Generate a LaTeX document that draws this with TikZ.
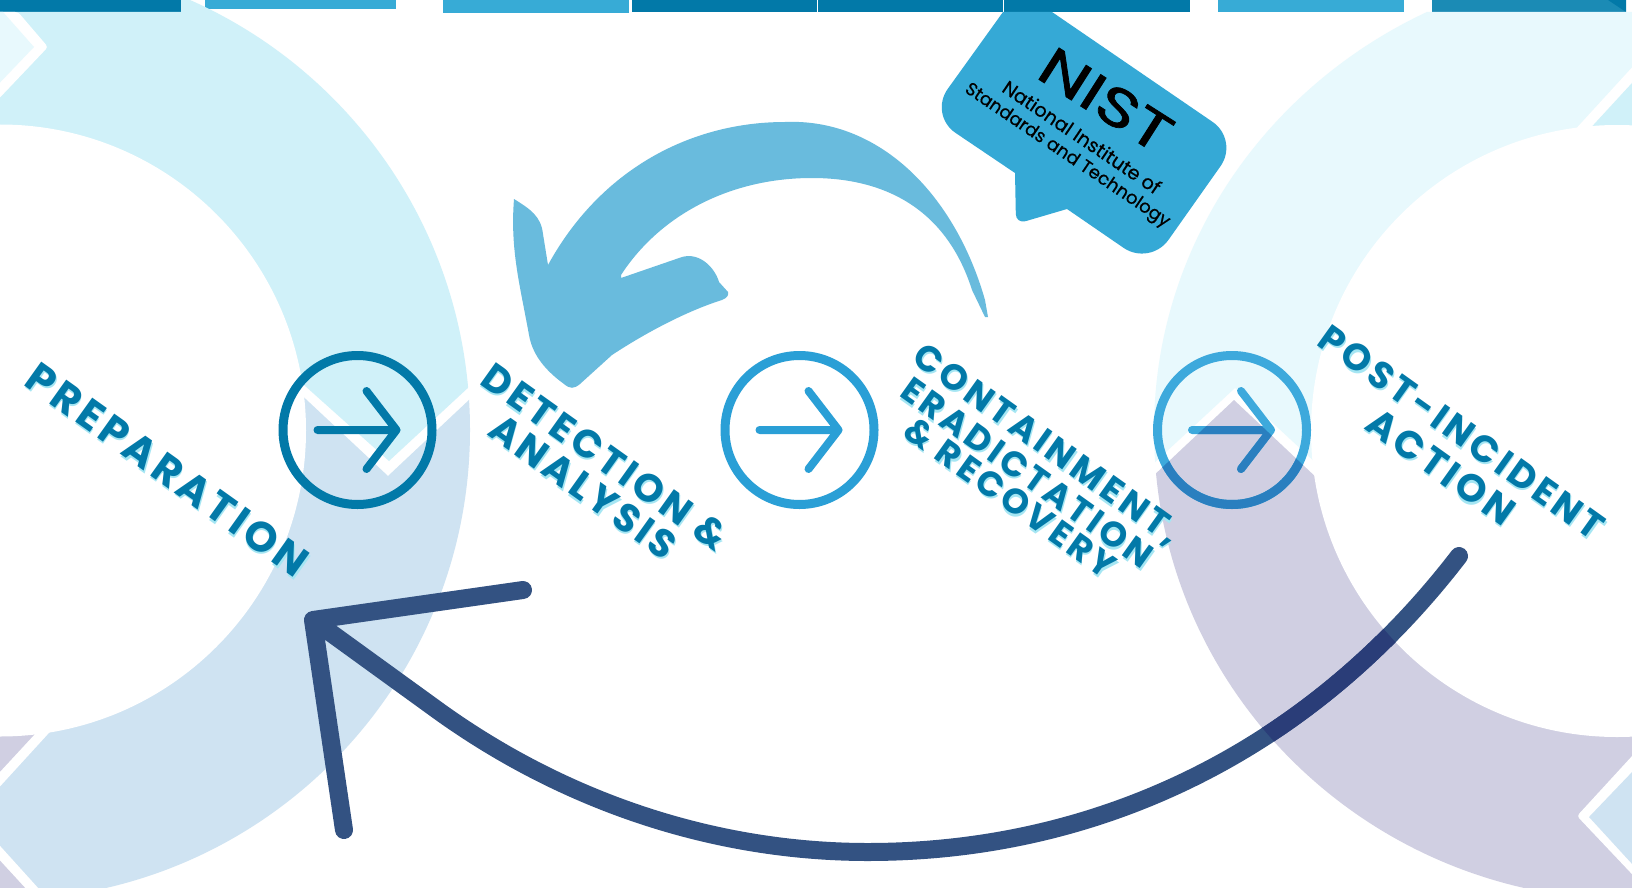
\documentclass[tikz,border=0pt]{standalone}
\usepackage{fontspec}
\setmainfont{Poppins}
\newfontfamily\lblfont[LetterSpace=10,BoldFont={Poppins Bold}]{Poppins}
\newfontfamily\nistfont[FakeBold=1.2]{Poppins}
\newfontfamily\nistmed[FakeBold=0.5]{Poppins}
\definecolor{dkblue}{HTML}{0279A8}
\definecolor{midblue}{HTML}{37ABD6}
\definecolor{barseven}{HTML}{1B8BB5}
\definecolor{ringcyan}{HTML}{D0F1F9}
\definecolor{ringblue}{HTML}{CFE3F2}
\definecolor{ringpale}{HTML}{E8F9FD}
\definecolor{ringlav}{HTML}{D0CFE2}
\definecolor{swoosh}{HTML}{69BBDD}
\definecolor{bubble}{HTML}{35A9D6}
\definecolor{circb}{HTML}{2A9FD6}
\definecolor{circc}{HTML}{3DA9DC}
\definecolor{circcdk}{HTML}{2A7FBF}
\definecolor{navy}{HTML}{335282}
\definecolor{navydk}{HTML}{2A3D78}
\definecolor{shadowc}{HTML}{A5E6F3}
\newcommand{\biglabel}[5]{%
  \node[lbl,text=shadowc,xshift=1.6pt,yshift=-1.6pt] (#1s) at (#2,#3) {\resizebox{#4pt}{!}{\lblfont\bfseries #5}};
  \node[lbl,text=dkblue] (#1) at (#2,#3) {\resizebox{#4pt}{!}{\lblfont\bfseries #5}};
}
\newcommand{\roundarrow}[3]{% center x, colour, id
  \node[circle,draw=#2,line width=9pt,minimum size=149pt,inner sep=0pt] (c#3) at (#1,430) {};
  \coordinate (a#3) at (#1-40,430);
  \coordinate (b#3) at (#1+39,430);
  \coordinate (u#3) at (#1+9,391);
  \coordinate (d#3) at (#1+9,469);
  \draw[arrowline,draw=#2] (a#3) -- (b#3) (u#3) -- (b#3) -- (d#3);
}
\tikzset{
  lbl/.style={inner sep=0pt,rotate=-35.5,anchor=center,text height=27pt,text depth=0pt},
  nisttxt/.style={inner sep=0pt,rotate=-34,anchor=center,text=black},
  arrowline/.style={line width=8pt,line cap=round,line join=round},
  bigline/.style={line width=18pt,line cap=round,line join=round},
  band/.style={fill=white,rounded corners=3pt},
}
\begin{document}
\begin{tikzpicture}[x=1pt,y=-1pt]
\useasboundingbox (0,0) rectangle (1632,888);
\fill[white] (0,0) rectangle (1632,888);
% top bars
\fill[dkblue] (0,0) rectangle (181,12);
\fill[midblue] (205,0) rectangle (396,9);
\fill[midblue] (443,0) rectangle (629,13);
\fill[dkblue] (632,0) rectangle (817,12);
\fill[dkblue] (818,0) rectangle (1003,12);
\fill[dkblue] (1004,0) rectangle (1190,12);
\fill[midblue] (1218,0) rectangle (1404,12);
\fill[barseven] (1432,0) rectangle (1626,12);
\fill[dkblue] (1608,0) -- (1626,0) -- (1626,12) -- cycle;
% left ring
\begin{scope}
  \clip (-10,12) -- (181,12) -- (181,0) -- (700,0) -- (700,173) -- (389,461) -- (200,292) -- (-10,292) -- cycle;
  \fill[ringcyan] (0,430) circle[radius=470];
\end{scope}
\begin{scope}
  \clip (388,476) -- (700,183) -- (700,900) -- (-10,900) -- (-10,300) -- (200,300) -- cycle;
  \fill[ringblue] (0,430) circle[radius=470];
\end{scope}
\fill[band] (18,12) -- (48,47) -- (-10,108) -- (-10,12) -- cycle;
\fill[ringpale] (3,12) -- (34,47) -- (-10,93) -- (-10,12) -- cycle;
\fill[band] (58,723) -- (-27,816) -- (58,910) -- (-40,910) -- (-40,723) -- cycle;
\fill[ringlav] (46,722) -- (-41,816) -- (50,915) -- (-50,915) -- (-50,722) -- cycle;
% right ring
\begin{scope}
  \clip (1000,12) -- (1700,12) -- (1700,541) -- (1400,541) -- (1235,388) -- (1000,606) -- cycle;
  \fill[ringpale] (1640,430) ellipse[x radius=486,y radius=465];
\end{scope}
\begin{scope}
  \clip (1000,620) -- (1234,400) -- (1440,594) -- (1700,594) -- (1700,900) -- (1000,900) -- cycle;
  \fill[ringlav] (1632,430) ellipse[x radius=478,y radius=470];
\end{scope}
\fill[band] (1540,168) -- (1680,15) -- (1700,168) -- cycle;
\fill[ringcyan] (1550,172) -- (1690,20) -- (1700,172) -- cycle;
\fill[band] (1700,682) -- (1577,816) -- (1700,946) -- cycle;
\fill[ringblue] (1700,701) -- (1589,817) -- (1700,938) -- cycle;
% inner discs
\fill[white] (0,430.5) circle[radius=306];
\fill[white] (1617,431) circle[radius=306];
% curved light arrow
\fill[swoosh] (514,199) .. controls (530,209) and (541,216) .. (543,234) -- (548,265)
  .. controls (600,170) and (690,122) .. (785,122)
  .. controls (880,118) and (955,195) .. (985,300) -- (988,317) -- (985,317) -- (972,290)
  .. controls (945,205) and (880,178) .. (812,178)
  .. controls (730,178) and (660,215) .. (621,275) -- (621,278) -- (682,257)
  .. controls (700,252) and (715,268) .. (719,282) -- (728,292)
  .. controls (729,295) and (727,298) .. (722,300)
  .. controls (690,310) and (650,330) .. (612,355) -- (580,384)
  .. controls (574,389) and (570,389) .. (564,384)
  .. controls (542,368) and (532,352) .. (529,335)
  .. controls (520,285) and (510,250) .. (514,199) -- cycle;
% speech bubble
\fill[bubble] (1003,12) -- (1052,12) [rounded corners=32pt] -- (1239,140) -- (1150,266) [rounded corners=0pt] -- (1067,209)
  [rounded corners=10pt] -- (1016,224) [rounded corners=0pt] -- (1015,173) [rounded corners=32pt] -- (929,115) [rounded corners=0pt] -- (1003,12) -- cycle;
\node[nisttxt,rotate=1.5] (nist) at (1106,100) {\resizebox{146pt}{38pt}{\nistfont NIST}};
\node[nisttxt] (nistb) at (1082,137) {\resizebox{186pt}{!}{\nistmed National Institute of}};
\node[nisttxt] (nistc) at (1067,156) {\resizebox{243pt}{!}{\nistmed Standards and Technology}};
% round arrows
\roundarrow{357.5}{dkblue}{1}
\roundarrow{799.5}{circb}{2}
\roundarrow{1232}{circc}{3}
\begin{scope}
  \clip (1000,620) -- (1234,400) -- (1440,594) -- (1700,594) -- (1700,900) -- (1000,900) -- cycle;
  \begin{scope}[even odd rule]
  \clip (1632,430) ellipse[x radius=478,y radius=470] (1617,431) circle[radius=306];
  \draw[line width=9pt,draw=circcdk] (c3.center) circle[radius=74.5];
  \draw[arrowline,draw=circcdk] (a3) -- (b3) (u3) -- (b3) -- (d3);
  \end{scope}
\end{scope}
% labels
\biglabel{prep}{167}{471}{335}{PREPARATION}
\biglabel{det}{605}{457}{292}{DETECTION \&}
\biglabel{ana}{583}{487}{219}{ANALYSIS}
\biglabel{con}{1048}{443}{318}{CONTAINMENT,}
\biglabel{era}{1028}{472}{300}{ERADICTATION}
\biglabel{rec}{1011}{497}{250}{\& RECOVERY}
\biglabel{pos}{1462}{432}{340}{POST-INCIDENT}
\biglabel{act}{1441}{467}{171}{ACTION}
% big return arrow
\coordinate (tip) at (313,620);
\coordinate (start) at (1459,556);
\coordinate (h1) at (523,590);
\coordinate (h2) at (344,830);
\def\bigshaft{(start) .. controls (1310,750) and (1100,852) .. (868,852) .. controls (720,852) and (570,805) .. (440,712) -- (tip)}
\draw[bigline,draw=navy] \bigshaft (h1) -- (tip) -- (h2);
\begin{scope}
  \clip (1000,620) -- (1234,400) -- (1440,594) -- (1700,594) -- (1700,900) -- (1000,900) -- cycle;
  \begin{scope}[even odd rule]
  \clip (1632,430) ellipse[x radius=478,y radius=470] (1617,431) circle[radius=306];
  \draw[bigline,draw=navydk] \bigshaft;
  \end{scope}
\end{scope}
\end{tikzpicture}
\end{document}
